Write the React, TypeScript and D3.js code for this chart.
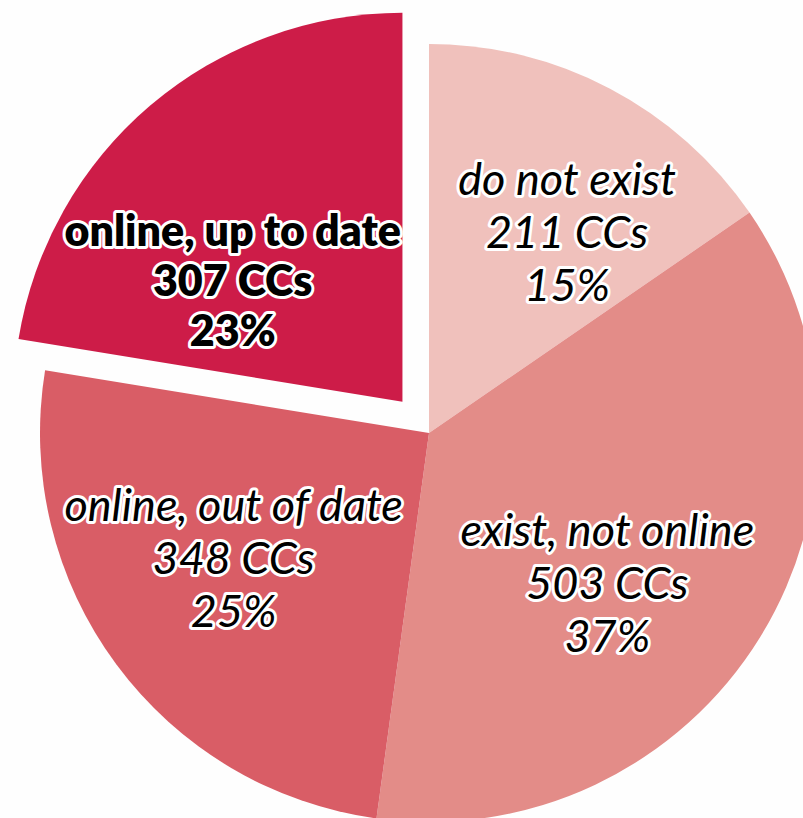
import React from "react";
import * as d3 from "d3";

const categories = ["do not exist", "exist, not online", "online, out of date", "online, up to date"];
const counts = [211, 503, 348, 307];
const percentLabels = ["15%", "37%", "25%", "23%"];
const colors = ["#f0c1bc", "#e38c88", "#d95d66", "#cd1c48"];
const exploded = [false, false, false, true];
const boldLabel = [false, false, false, true];
// label nudges relative to centroid (style)
const labelNudge: [number, number][] = [[29.5, 4.2], [-20.4, 26.8], [-7.7, -14.5], [-18.6, 55.8]];

const W = 803;
const H = 818;
const CX = 429;
const CY = 433;
const R = 389;
const EXPLODE = 41;

export default function App() {
  const data = categories.map((c, i) => ({ c, v: counts[i], i }));
  const pie = d3.pie<any>().sort(null).value((d) => d.v);
  const arcs = pie(data);
  const arc = d3.arc<any>().innerRadius(0).outerRadius(R);
  const labelArc = d3.arc<any>().innerRadius(R * 0.6).outerRadius(R * 0.6);

  return (
    <svg width={W} height={H} style={{ position: "absolute", left: 0, top: 0, background: "#fefefe" }}>
      <g transform={`translate(${CX},${CY})`}>
        {arcs.map((a, k) => {
          const mid = (a.startAngle + a.endAngle) / 2;
          const off = exploded[k] ? EXPLODE : 0;
          const ox = Math.sin(mid) * off;
          const oy = -Math.cos(mid) * off;
          return (
            <path key={k} d={arc(a) as string} fill={colors[k]} transform={`translate(${ox},${oy})`} />
          );
        })}
        {arcs.map((a, k) => {
          const mid = (a.startAngle + a.endAngle) / 2;
          const off = exploded[k] ? EXPLODE : 0;
          const ox = Math.sin(mid) * off;
          const oy = -Math.cos(mid) * off;
          const [lx, ly] = labelArc.centroid(a);
          const x = lx + ox + labelNudge[k][0];
          const y = ly + oy + labelNudge[k][1];
          const bold = boldLabel[k];
          const fs = bold ? 43 : 45;
          const lh = bold ? 50 : 53;
          const lines = [categories[k], `${counts[k]} CCs`, percentLabels[k]];
          return (
            <g key={"l" + k}>
              {lines.map((t, j) => (
                <text
                  key={j}
                  x={x}
                  y={y + (j - 1) * lh}
                  textAnchor="middle"
                  dominantBaseline="central"
                  fontFamily="Lato, 'Open Sans', sans-serif"
                  fontSize={fs}
                  fontWeight={bold ? 800 : 400}
                  fontStyle={bold ? "normal" : "italic"}
                  fill="#000"
                  stroke="#fff"
                  strokeWidth={6}
                  strokeLinejoin="round"
                  paintOrder="stroke"
                >
                  {t}
                </text>
              ))}
            </g>
          );
        })}
      </g>
    </svg>
  );
}
